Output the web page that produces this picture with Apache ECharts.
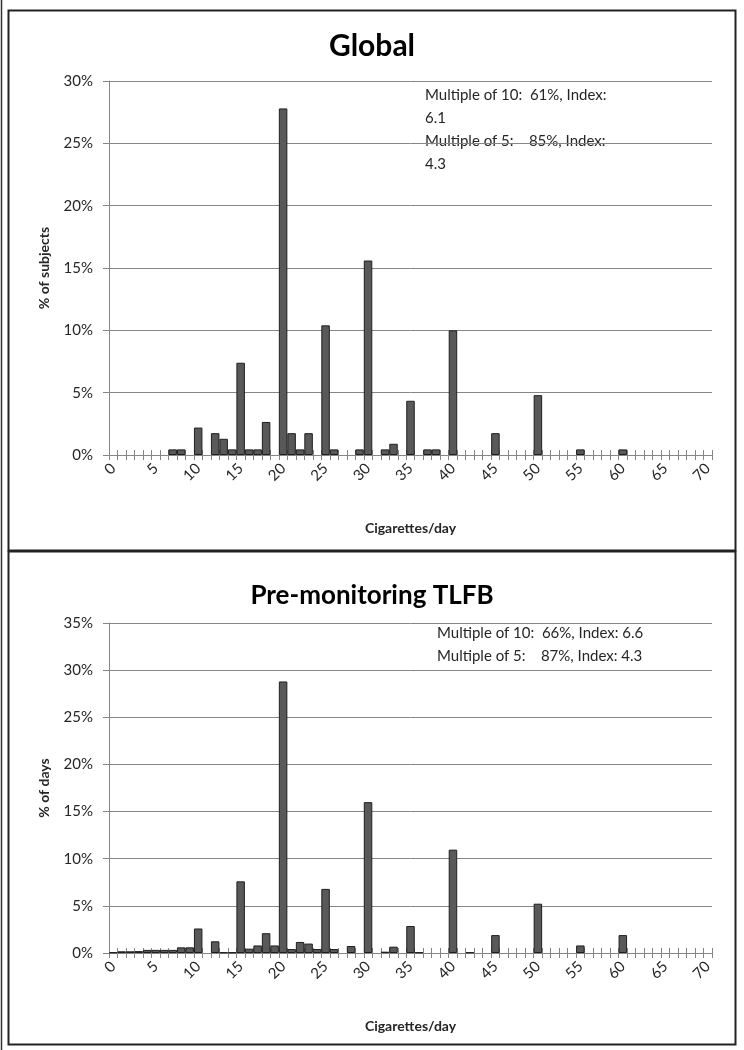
<!DOCTYPE html>
<html>
<head>
<meta charset="utf-8">
<script src="https://cdn.jsdelivr.net/npm/echarts@6/dist/echarts.min.js"></script>
<style>
html,body{margin:0;padding:0;background:#fff;}
#chart{width:744px;height:1050px;}
</style>
</head>
<body>
<div id="chart"></div>
<script>
const categories = ['0','1','2','3','4','5','6','7','8','9','10','11','12','13','14','15','16','17','18','19','20','21','22','23','24','25','26','27','28','29','30','31','32','33','34','35','36','37','38','39','40','41','42','43','44','45','46','47','48','49','50','51','52','53','54','55','56','57','58','59','60','61','62','63','64','65','66','67','68','69','70'];

// Global: % of subjects
const globalValues = [0,0,0,0,0,0,0,0.45,0.45,0,
  2.2,0,1.75,1.3,0.45,7.4,0.45,0.45,2.65,0,
  27.8,1.75,0.45,1.75,0,10.4,0.45,0,0,0.45,
  15.6,0,0.45,0.9,0,4.35,0,0.45,0.45,0,
  10.0,0,0,0,0,1.75,0,0,0,0,
  4.8,0,0,0,0,0.45,0,0,0,0,
  0.45,0,0,0,0,0,0,0,0,0,0];

// Pre-monitoring TLFB: % of days
const tlfbValues = [0.07,0.18,0.18,0.2,0.33,0.33,0.33,0.33,0.6,0.6,
  2.6,0,1.24,0.07,0.07,7.6,0.46,0.8,2.1,0.8,
  28.8,0.42,1.17,1.0,0.42,6.8,0.42,0,0.74,0,
  16.0,0,0.14,0.67,0,2.86,0.07,0,0,0,
  10.96,0,0.07,0,0,1.9,0,0,0,0,
  5.23,0,0,0,0,0.8,0,0,0,0,
  1.9,0,0,0,0,0,0,0,0,0,0];

const titles = ['Global', 'Pre-monitoring TLFB'];
const yNames = ['% of subjects', '% of days'];
const xName = 'Cigarettes/day';
const yMax = [30, 35];
const notes = [
  ['Multiple of 10:  61%, Index:', '6.1', 'Multiple of 5:    85%, Index:', '4.3'],
  ['Multiple of 10:  66%, Index: 6.6', 'Multiple of 5:    87%, Index: 4.3']
];

const FONT = "Lato, 'Open Sans', sans-serif";
const gray = '#868686';
const textColor = '#262626';

const grids = [
  {left: 109, right: 32, top: 81, height: 374},
  {left: 109, right: 32, top: 623, height: 330}
];

function toBars(arr){ return arr.map(v => v === 0 ? '-' : v); }

const xAxes = [], yAxes = [], series = [];
[0,1].forEach(i => {
  xAxes.push({
    type: 'category', gridIndex: i, data: categories, boundaryGap: true,
    name: xName, nameLocation: 'middle', nameGap: 66,
    nameTextStyle: {fontFamily: FONT, fontWeight: 'bold', fontSize: 14, color: textColor},
    axisLine: {show: true, lineStyle: {color: gray, width: 1}},
    axisTick: {show: true, interval: 0, length: 5, lineStyle: {color: gray}},
    axisLabel: {interval: 4, rotate: 45, margin: 11, fontFamily: FONT, fontSize: 15, color: textColor},
    splitLine: {show: false}
  });
  xAxes.push({
    type: 'category', gridIndex: i, data: categories, boundaryGap: true, position: 'bottom',
    axisLine: {show: false},
    axisTick: {show: true, inside: true, interval: 0, length: 5, lineStyle: {color: gray}},
    axisLabel: {show: false}, splitLine: {show: false}
  });
  yAxes.push({
    type: 'value', gridIndex: i, min: 0, max: yMax[i], interval: 5,
    name: yNames[i], nameLocation: 'middle', nameGap: 58, nameRotate: 90,
    nameTextStyle: {fontFamily: FONT, fontWeight: 'bold', fontSize: 14, color: textColor},
    axisLine: {show: true, lineStyle: {color: gray, width: 1}},
    axisTick: {show: true, length: 6, lineStyle: {color: gray}},
    axisLabel: {formatter: '{value}%', margin: 16, fontFamily: FONT, fontSize: 15, color: textColor},
    splitLine: {show: true, lineStyle: {color: gray, width: 1}}
  });
  series.push({
    type: 'bar', xAxisIndex: i * 2, yAxisIndex: i,
    data: toBars(i === 0 ? globalValues : tlfbValues),
    barCategoryGap: '0%',
    itemStyle: {color: '#595959', borderColor: '#1f1f1f', borderWidth: 1},
    silent: true, animation: false
  });
});

const graphic = [
  {type: 'line', shape: {x1: 1.5, y1: 0, x2: 1.5, y2: 1050}, style: {stroke: '#333', lineWidth: 1.5}},
  {type: 'rect', shape: {x: 8.5, y: 10.5, width: 727, height: 540}, style: {fill: 'none', stroke: '#222', lineWidth: 2}},
  {type: 'rect', shape: {x: 8.5, y: 551.5, width: 727, height: 493}, style: {fill: 'none', stroke: '#222', lineWidth: 2}}
];
const noteTop = [[425, 88], [437, 626]];
[0,1].forEach(i => {
  notes[i].forEach((t, k) => {
    graphic.push({type: 'text', left: noteTop[i][0], top: noteTop[i][1] + k * 23,
      style: {text: t, fontFamily: FONT, fontSize: 15, fill: textColor}});
  });
});

const chart = echarts.init(document.getElementById('chart'), null, {renderer: 'canvas'});
chart.setOption({
  animation: false,
  backgroundColor: '#fff',
  title: [
    {text: titles[0], left: 'center', top: 26, textStyle: {fontFamily: FONT, fontWeight: 'bold', fontSize: 30, color: '#000'}},
    {text: titles[1], left: 'center', top: 578, textStyle: {fontFamily: FONT, fontWeight: 'bold', fontSize: 26, color: '#000'}}
  ],
  grid: grids,
  xAxis: xAxes,
  yAxis: yAxes,
  series: series,
  graphic: graphic
});
</script>
</body>
</html>
